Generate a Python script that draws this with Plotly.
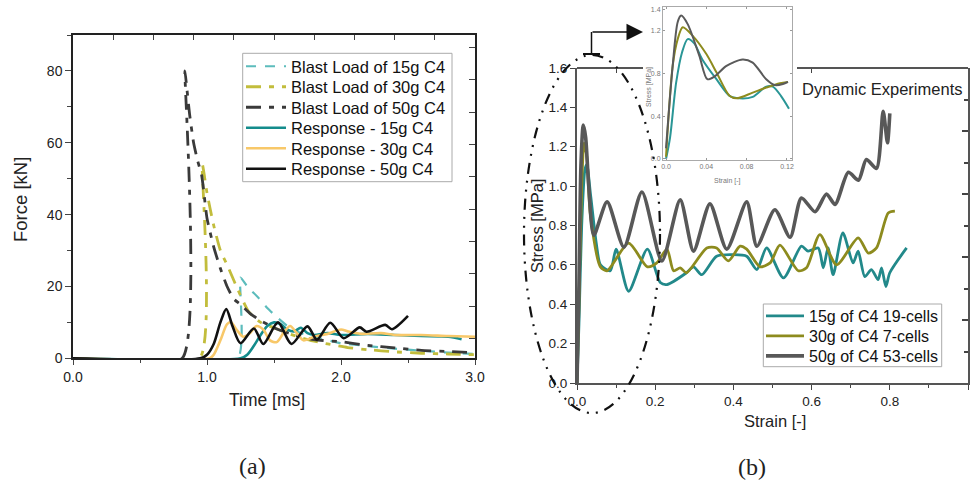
import plotly.graph_objects as go

W, H = 977, 485

# ---------------- Panel (a): force vs time ----------------
t_b15 = [0, 1.23, 1.25, 1.30, 1.38, 1.45, 1.52, 1.60, 1.70, 1.85, 2.0, 2.2, 2.4, 2.6, 2.8, 3.0]
f_b15 = [0, 0, 22.5, 20, 17, 14, 11.5, 9, 7, 5.5, 4.2, 3.4, 2.7, 2.1, 1.6, 1.2]

t_b30 = [0, 0.945, 0.965, 1.0, 1.05, 1.10, 1.15, 1.22, 1.31, 1.40, 1.50, 1.60, 1.75, 1.90, 2.05, 2.2, 2.4, 2.6, 2.8, 3.0]
f_b30 = [0, 0, 54, 46, 37, 30, 26, 20, 13, 10, 8.5, 7, 5.2, 4, 3, 2.4, 1.8, 1.4, 1.2, 1.0]

t_b50 = [0, 0.815, 0.835, 0.85, 0.87, 0.90, 0.93, 0.96, 1.0, 1.05, 1.10, 1.15, 1.20, 1.25, 1.32, 1.40, 1.50, 1.65, 1.80, 2.0, 2.2, 2.4, 2.6, 2.8, 3.0]
f_b50 = [0, 0, 80, 75, 68, 60, 55, 51, 39, 31, 25, 20, 16.5, 15, 12.5, 10.5, 8.5, 6.5, 5.2, 4.6, 3.6, 2.9, 2.2, 1.9, 1.5]

t_r15 = [0, 1.25, 1.30, 1.35, 1.40, 1.45, 1.50, 1.55, 1.60, 1.65, 1.70, 1.75, 1.80, 1.90, 2.0, 2.2, 2.4, 2.6, 2.8, 2.9]
f_r15 = [0, 0, 1, 3.5, 6.5, 9, 10, 9.5, 8, 7.5, 8.5, 7, 6.5, 7, 6.5, 6.8, 6.5, 6.2, 6, 5.3]

t_r30 = [0, 1.02, 1.05, 1.10, 1.15, 1.18, 1.22, 1.27, 1.32, 1.37, 1.42, 1.47, 1.52, 1.57, 1.62, 1.67, 1.72, 1.80, 1.90, 2.0, 2.05, 2.15, 2.3, 2.4, 2.6, 2.8, 3.0]
f_r30 = [0, 0, 1, 5, 9.5, 10, 8, 6, 7, 9, 8, 5, 4.5, 7, 9, 7, 5, 6, 6.8, 8, 7.5, 6.8, 7, 6.5, 6.5, 6.2, 6]

t_r50 = [0, 0.95, 1.0, 1.05, 1.10, 1.144, 1.19, 1.25, 1.35, 1.42, 1.53, 1.63, 1.75, 1.82, 1.92, 2.02, 2.14, 2.19, 2.33, 2.38, 2.50]
f_r50 = [0, 0, 1, 4, 10, 13.7, 9, 4.2, 8.3, 4, 10, 4, 8.9, 5.2, 9.9, 5.6, 8.6, 7.4, 9.3, 8.1, 11.8]

time_ticks = [0, 1, 2, 3]
time_labels = ["0.0", "1.0", "2.0", "3.0"]
force_ticks = [0, 20, 40, 60, 80]

# ---------------- Panel (b): stress vs strain ----------------
s15_x = [0, 0.005, 0.012, 0.02, 0.025, 0.035, 0.05, 0.06, 0.085, 0.10, 0.132, 0.18, 0.213, 0.23, 0.28, 0.298, 0.319, 0.357, 0.40, 0.434, 0.46, 0.485, 0.528, 0.574, 0.591, 0.617, 0.63, 0.642, 0.655, 0.68, 0.706, 0.719, 0.736, 0.753, 0.77, 0.779, 0.79, 0.80, 0.843]
s15_y = [0, 0.3, 0.8, 1.08, 1.11, 0.95, 0.7, 0.60, 0.57, 0.68, 0.466, 0.68, 0.51, 0.50, 0.56, 0.59, 0.55, 0.644, 0.652, 0.644, 0.576, 0.686, 0.534, 0.695, 0.67, 0.686, 0.585, 0.686, 0.55, 0.763, 0.61, 0.67, 0.54, 0.576, 0.525, 0.585, 0.49, 0.56, 0.686]

s30_x = [0, 0.005, 0.012, 0.018, 0.025, 0.034, 0.06, 0.077, 0.132, 0.18, 0.204, 0.23, 0.247, 0.264, 0.28, 0.332, 0.357, 0.387, 0.417, 0.434, 0.468, 0.494, 0.519, 0.566, 0.587, 0.621, 0.664, 0.719, 0.745, 0.766, 0.796, 0.813]
s30_y = [0, 0.4, 1.0, 1.22, 1.15, 0.86, 0.59, 0.57, 0.71, 0.59, 0.61, 0.68, 0.57, 0.585, 0.56, 0.686, 0.686, 0.62, 0.695, 0.68, 0.59, 0.61, 0.70, 0.57, 0.585, 0.754, 0.60, 0.737, 0.66, 0.686, 0.864, 0.873]

s50_x = [0, 0.005, 0.01, 0.016, 0.022, 0.03, 0.043, 0.077, 0.12, 0.166, 0.217, 0.264, 0.298, 0.34, 0.383, 0.434, 0.46, 0.506, 0.545, 0.574, 0.609, 0.638, 0.66, 0.694, 0.72, 0.74, 0.766, 0.783, 0.794, 0.80]
s50_y = [0, 0.5, 1.1, 1.31, 1.25, 1.0, 0.75, 0.92, 0.69, 0.97, 0.62, 0.93, 0.67, 0.91, 0.68, 0.92, 0.695, 0.88, 0.74, 0.94, 0.87, 0.96, 0.907, 1.07, 1.03, 1.135, 1.09, 1.38, 1.22, 1.37]

strain_ticks = [0, 0.2, 0.4, 0.6, 0.8, 1.0]
stress_ticks = [0, 0.2, 0.4, 0.6, 0.8, 1.0, 1.2, 1.4, 1.6]

# ---------------- Inset ----------------
i15_x = [0, 0.004, 0.01, 0.016, 0.0215, 0.028, 0.036, 0.05, 0.063, 0.073, 0.086, 0.0994, 0.106, 0.114, 0.122]
i15_y = [0, 0.2, 0.71, 1.0, 1.12, 1.08, 0.93, 0.745, 0.59, 0.566, 0.58, 0.676, 0.676, 0.59, 0.47]
i30_x = [0, 0.0066, 0.0116, 0.0166, 0.0265, 0.04, 0.05, 0.063, 0.07, 0.086, 0.0994, 0.113, 0.121]
i30_y = [0.02, 0.87, 1.12, 1.23, 1.15, 0.98, 0.81, 0.59, 0.566, 0.62, 0.667, 0.708, 0.72]
i50_x = [0, 0.0066, 0.0116, 0.015, 0.0215, 0.033, 0.041, 0.048, 0.06, 0.076, 0.086, 0.0994, 0.108, 0.116, 0.121]
i50_y = [0.1, 0.87, 1.28, 1.34, 1.26, 0.965, 0.745, 0.77, 0.87, 0.93, 0.90, 0.745, 0.69, 0.70, 0.72]

inset_xticks = [0, 0.04, 0.08, 0.12]
inset_xlabels = ["0.0", "0.04", "0.08", "0.12"]
inset_yticks = [0, 0.4, 0.8, 1.2, 1.4]
inset_ylabels = ["0.0", "0.4", "0.8", "1.2", "1.4"]


def px(x):
    return x / W


def py(y):
    return 1 - y / H


FONT = "Liberation Sans, Arial, sans-serif"
SERIF = "Liberation Serif, DejaVu Serif, serif"
fig = go.Figure()

# legend rows (one legend per row so the row pitch matches the original)
LEFT_ROWS = [66.5, 87, 107.5, 128, 148.5, 169]
RIGHT_ROWS = [316, 336, 356]

# Panel (a) traces
C_B15, C_B30, C_B50 = "#5cbcbc", "#c2bd3c", "#3a3a3a"
C_R15, C_R30, C_R50 = "#148c8c", "#f8c869", "#111111"
a_series = [
    (t_b15, f_b15, "Blast Load of 15g C4", dict(color=C_B15, width=2.2, dash="10px,9px", shape="spline", smoothing=0.5)),
    (t_b30, f_b30, "Blast Load of 30g C4", dict(color=C_B30, width=2.8, dash="15px,8px,5px,8px", shape="spline", smoothing=0.5)),
    (t_b50, f_b50, "Blast Load of 50g C4", dict(color=C_B50, width=2.8, dash="15px,8px,5px,8px", shape="spline", smoothing=0.5)),
    (t_r15, f_r15, "Response - 15g C4", dict(color=C_R15, width=2.6, shape="spline", smoothing=0.8)),
    (t_r30, f_r30, "Response - 30g C4", dict(color=C_R30, width=2.6, shape="spline", smoothing=0.8)),
    (t_r50, f_r50, "Response - 50g C4", dict(color=C_R50, width=2.6, shape="spline", smoothing=0.8)),
]
legend_layouts = {}
for k, (xs, ys, name, ln) in enumerate(a_series):
    lg = "legend" if k == 0 else f"legend{k + 1}"
    fig.add_trace(go.Scatter(x=xs, y=ys, name=name, mode="lines", line=ln, legend=lg))
    legend_layouts[lg] = dict(x=px(241), y=py(LEFT_ROWS[k]), xanchor="left", yanchor="middle",
                              bgcolor="rgba(0,0,0,0)", borderwidth=0, itemwidth=40,
                              font=dict(family=FONT, size=16.5, color="#111"))

# Panel (b) traces
D15, D30, D50 = "#22898a", "#8d8b1e", "#585858"
b_series = [
    (s15_x, s15_y, "15g of C4 19-cells", dict(color=D15, width=2.8, shape="spline", smoothing=0.7)),
    (s30_x, s30_y, "30g of C4 7-cells", dict(color=D30, width=2.8, shape="spline", smoothing=0.7)),
    (s50_x, s50_y, "50g of C4 53-cells", dict(color=D50, width=3.6, shape="spline", smoothing=0.7)),
]
for k, (xs, ys, name, ln) in enumerate(b_series):
    lg = f"legend{k + 7}"
    fig.add_trace(go.Scatter(x=xs, y=ys, name=name, mode="lines", xaxis="x3", yaxis="y3", line=ln, legend=lg))
    legend_layouts[lg] = dict(x=px(761), y=py(RIGHT_ROWS[k]), xanchor="left", yanchor="middle",
                              bgcolor="rgba(0,0,0,0)", borderwidth=0, itemwidth=38,
                              font=dict(family=FONT, size=16, color="#111"))

# Inset traces
for xs, ys, c in [(i15_x, i15_y, "#2a9696"), (i30_x, i30_y, "#8d8b1e"), (i50_x, i50_y, "#5a5a5a")]:
    fig.add_trace(go.Scatter(x=xs, y=ys, mode="lines", xaxis="x5", yaxis="y5", showlegend=False,
                             line=dict(color=c, width=2, shape="spline", smoothing=0.8)))

# invisible anchors for overlay tick axes
fig.add_trace(go.Scatter(x=[0], y=[0], xaxis="x2", yaxis="y2", mode="lines", showlegend=False, hoverinfo="skip"))
fig.add_trace(go.Scatter(x=[0], y=[0], xaxis="x4", yaxis="y4", mode="lines", showlegend=False, hoverinfo="skip"))

TF = dict(family=FONT, size=14, color="#222")
TFB = dict(family=FONT, size=13.5, color="#222")

a_x0, a_x1, a_y0, a_y1 = 73, 475, 358.3, 35
b_x0, b_x1, b_y0, b_y1 = 577, 968, 383, 68
i_x0, i_x1, i_y0, i_y1 = 663, 792, 160, 7

common = dict(showgrid=False, zeroline=False, automargin=False)

fig.update_layout(
    width=W, height=H, margin=dict(l=0, r=0, t=0, b=0, autoexpand=False),
    paper_bgcolor="white", plot_bgcolor="rgba(0,0,0,0)", template="none",
    font=dict(family=FONT, color="#222"),
    xaxis=dict(domain=[px(a_x0), px(a_x1)], range=[0, 3], anchor="y",
               tickvals=time_ticks, ticktext=time_labels, ticks="outside", ticklen=5, tickwidth=1.3,
               minor=dict(dtick=0.5, ticks="outside", ticklen=3), tickfont=TF,
               showline=True, linecolor="#222", linewidth=1.5, mirror=True, **common),
    yaxis=dict(domain=[py(a_y0), py(a_y1)], range=[0, 90], anchor="x",
               tickvals=force_ticks, ticks="outside", ticklen=6, tickwidth=1.3,
               minor=dict(dtick=10, ticks="outside", ticklen=4), tickfont=TF,
               showline=True, linecolor="#222", linewidth=1.5, mirror=True, **common),
    xaxis2=dict(overlaying="x", anchor="y", side="top", range=[0, 3],
                tickvals=[0.3 * k for k in range(1, 10)], ticks="inside", ticklen=5, tickwidth=1.3,
                showticklabels=False, showline=False, **common),
    yaxis2=dict(overlaying="y", anchor="x", side="right", range=[0, 90],
                tickvals=[5.5 + 9 * k for k in range(10)], ticks="inside", ticklen=6, tickwidth=1.3,
                showticklabels=False, showline=False, **common),
    xaxis3=dict(domain=[px(b_x0), px(b_x1)], range=[0, 1.0], anchor="y3",
                tickvals=strain_ticks, ticktext=[f"{v:.1f}" for v in strain_ticks],
                ticks="outside", ticklen=5, tickwidth=1.3,
                minor=dict(dtick=0.1, ticks="outside", ticklen=3), tickfont=TFB,
                showline=True, linecolor="#555", linewidth=2, **common),
    yaxis3=dict(domain=[py(b_y0), py(b_y1)], range=[0, 1.6], anchor="x3",
                tickvals=stress_ticks, ticktext=[f"{v:.1f}" for v in stress_ticks],
                ticks="outside", ticklen=5, tickwidth=1.3, tickfont=TFB,
                showline=True, linecolor="#555", linewidth=2, **common),
    xaxis4=dict(overlaying="x3", anchor="y3", side="top", range=[0, 1.0],
                tickvals=[0.1, 0.6], ticks="inside", ticklen=5, tickwidth=1.3,
                showticklabels=False, showline=False, **common),
    yaxis4=dict(overlaying="y3", anchor="x3", side="right", range=[0, 1.6],
                tickvals=[0.32, 0.64, 0.96, 1.28], ticks="inside", ticklen=6, tickwidth=1.5,
                minor=dict(tickvals=[0.16, 0.48, 0.8, 1.12, 1.44], ticks="inside", ticklen=4),
                showticklabels=False, showline=True, linecolor="#555", linewidth=2, **common),
    xaxis5=dict(domain=[px(i_x0), px(i_x1)], range=[-0.003, 0.125], anchor="y5",
                tickvals=inset_xticks, ticktext=inset_xlabels, ticks="inside", ticklen=2,
                tickfont=dict(family=FONT, size=7, color="#777"), tickcolor="#999",
                showline=True, linecolor="#aaa", linewidth=1, mirror="ticks", **common),
    yaxis5=dict(domain=[py(i_y0), py(i_y1)], range=[-0.01, 1.42], anchor="x5",
                tickvals=inset_yticks, ticktext=inset_ylabels, ticks="inside", ticklen=2,
                tickfont=dict(family=FONT, size=7, color="#777"), tickcolor="#999",
                showline=True, linecolor="#aaa", linewidth=1, mirror="ticks", **common),
    showlegend=True,
)
fig.update_layout(**legend_layouts)

shapes = []
# legend frames
shapes.append(dict(type="rect", xref="paper", yref="paper", x0=px(242.7), x1=px(452), y0=py(181.7), y1=py(53.3),
                   line=dict(color="#aaa", width=1)))
shapes.append(dict(type="rect", xref="paper", yref="paper", x0=px(763.3), x1=px(941.7), y0=py(366.7), y1=py(304),
                   line=dict(color="#aaa", width=1)))
# top frame of panel (b), interrupted by the inset picture
for xa, xb in [(b_x0, 643), (797, b_x1)]:
    shapes.append(dict(type="line", xref="paper", yref="paper", x0=px(xa), x1=px(xb), y0=py(b_y1), y1=py(b_y1),
                       line=dict(color="#555", width=2)))
# dash-dot ellipse marking the initial peak
shapes.append(dict(type="circle", xref="paper", yref="paper", x0=px(524), x1=px(660), y0=py(413), y1=py(55),
                   line=dict(color="#111", width=2.2, dash="11px,7px,2px,7px,2px,7px")))
# bracket and arrow leading to the inset
shapes.append(dict(type="line", xref="paper", yref="paper", x0=px(583), x1=px(600), y0=py(54), y1=py(54),
                   line=dict(color="#111", width=2)))
shapes.append(dict(type="line", xref="paper", yref="paper", x0=px(591.5), x1=px(591.5), y0=py(54), y1=py(32),
                   line=dict(color="#111", width=1.5)))
fig.update_layout(shapes=shapes)


def txt(x, y, s, size, angle=0, family=FONT, color="#222"):
    return dict(x=px(x), y=py(y), text=s, textangle=angle, xref="paper", yref="paper", showarrow=False,
                xanchor="center", yanchor="middle", font=dict(family=family, size=size, color=color))


ann = [
    dict(x=px(643), y=py(32), ax=-52, ay=0, showarrow=True, arrowhead=2, arrowsize=2.2, arrowwidth=1.5,
         arrowcolor="#111", text="", xref="paper", yref="paper"),
    txt(20, 200, "Force [kN]", 18.5, -90),
    txt(266.5, 400, "Time [ms]", 17.5),
    txt(537, 226, "Stress [MPa]", 16.5, -90),
    txt(775, 421, "Strain [-]", 16.5),
    txt(882, 89, "Dynamic Experiments", 16.5),
    txt(649, 87, "Stress [MPa]", 7, -90, color="#777"),
    txt(727, 181, "Strain [-]", 7, color="#777"),
    txt(252, 466, "(a)", 24, family=SERIF),
    txt(752, 467, "(b)", 24, family=SERIF),
]
fig.update_layout(annotations=ann)

fig.write_html("out.html", config={"displayModeBar": False},
               post_script="document.body.style.margin='0';document.body.style.padding='0';"
                           "document.body.style.overflow='hidden';")
